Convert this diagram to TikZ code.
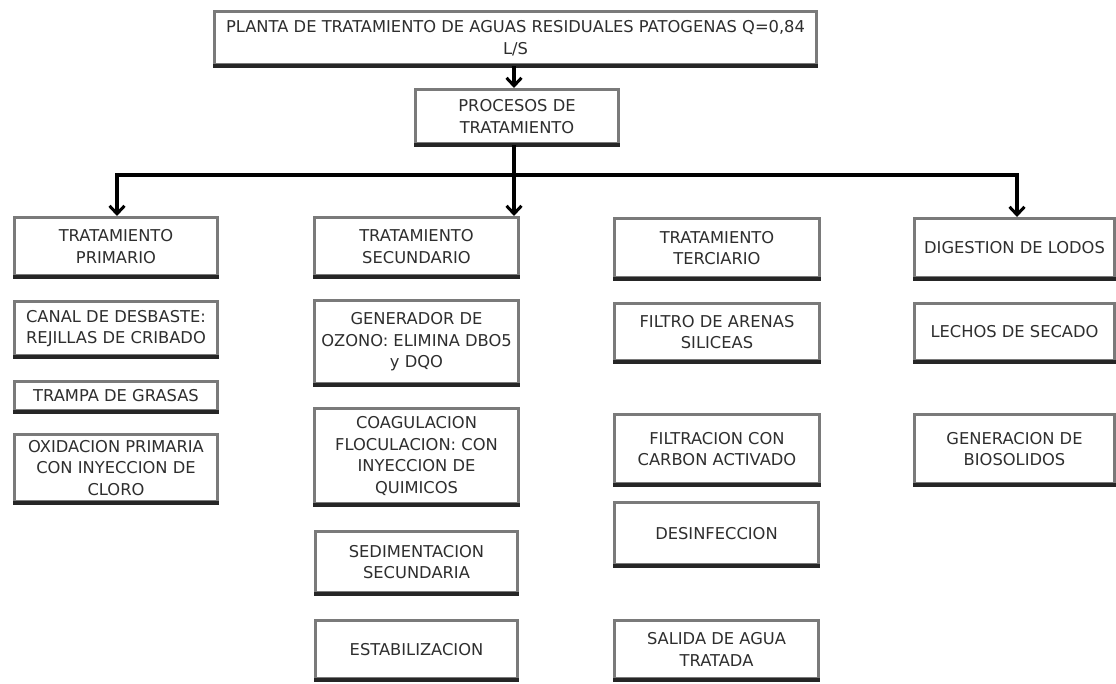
\documentclass[tikz,border=0pt]{standalone}
\usepackage{fontspec}
\setmainfont{DejaVu Sans}
\usetikzlibrary{arrows.meta}
\begin{document}
\begin{tikzpicture}[x=1pt,y=-1pt,
  box/.style={draw=black!52, line width=3pt, fill=white, anchor=north west,
    align=center, inner sep=0pt, text=black!82,
    font=\fontsize{16.3}{21.5}\selectfont,
    append after command={(\tikzlastnode.south west) edge[draw=black!85, line width=3.2pt] (\tikzlastnode.south east)}},
  conn/.style={line width=3.5pt, draw=black, line join=miter},
  tip/.style={-{Straight Barb[length=8pt,width=15pt,line width=3pt]}}]
\useasboundingbox (0,0) rectangle (1116,683);
\fill[white] (0,0) rectangle (1116,683);

% top
\node[box, minimum width=602pt, minimum height=53pt] (top) at (213,10)
  {PLANTA DE TRATAMIENTO DE AGUAS RESIDUALES PATOGENAS Q=0,84\\L/S};
\node[box, minimum width=203pt, minimum height=54pt] (proc) at (414,88)
  {PROCESOS DE\\TRATAMIENTO};

% column 1
\node[box, minimum width=203pt, minimum height=58pt] (prim) at (13,216) {TRATAMIENTO\\PRIMARIO};
\node[box, minimum width=203pt, minimum height=54pt] (canal) at (13,300) {CANAL DE DESBASTE:\\REJILLAS DE CRIBADO};
\node[box, minimum width=203pt, minimum height=29pt] (trampa) at (13,380) {TRAMPA DE GRASAS};
\node[box, minimum width=203pt, minimum height=67pt] (oxid) at (13,433) {OXIDACION PRIMARIA\\CON INYECCION DE\\CLORO};

% column 2
\node[box, minimum width=204pt, minimum height=58pt] (sec) at (313,216) {TRATAMIENTO\\SECUNDARIO};
\node[box, minimum width=204pt, minimum height=83pt] (ozono) at (313,299) {GENERADOR DE\\OZONO: ELIMINA DBO5\\y DQO};
\node[box, minimum width=204pt, minimum height=95pt] (coag) at (313,407) {COAGULACION\\FLOCULACION: CON\\INYECCION DE\\QUIMICOS};
\node[box, minimum width=202pt, minimum height=61pt] (sedim) at (314,530) {SEDIMENTACION\\SECUNDARIA};
\node[box, minimum width=202pt, minimum height=58pt] (estab) at (314,619) {ESTABILIZACION};

% column 3
\node[box, minimum width=205pt, minimum height=59pt] (ter) at (613,217) {TRATAMIENTO\\TERCIARIO};
\node[box, minimum width=205pt, minimum height=57pt] (arenas) at (613,302) {FILTRO DE ARENAS\\SILICEAS};
\node[box, minimum width=205pt, minimum height=69pt] (carbon) at (613,413) {FILTRACION CON\\CARBON ACTIVADO};
\node[box, minimum width=204pt, minimum height=62pt] (desinf) at (613,501) {DESINFECCION};
\node[box, minimum width=204pt, minimum height=58pt] (salida) at (613,619) {SALIDA DE AGUA\\TRATADA};

% column 4
\node[box, minimum width=200pt, minimum height=59pt] (dig) at (913,217) {DIGESTION DE LODOS};
\node[box, minimum width=200pt, minimum height=57pt] (lechos) at (913,302) {LECHOS DE SECADO};
\node[box, minimum width=200pt, minimum height=69pt] (bios) at (913,413) {GENERACION DE\\BIOSOLIDOS};

% connectors
\coordinate (hl) at (117,175);
\coordinate (hm) at (514,175);
\coordinate (hr) at (1017,175);
\draw[conn, tip] (top.south -| hm) -- (proc.north -| hm);
\draw[conn, tip] (proc.south -| hm) -- (sec.north -| hm);
\draw[conn, {Straight Barb[length=8pt,width=15pt,line width=3pt]}-{Straight Barb[length=8pt,width=15pt,line width=3pt]}]
  (prim.north -| hl) -- (hl) -- (hr) -- (dig.north -| hr);
\end{tikzpicture}
\end{document}
